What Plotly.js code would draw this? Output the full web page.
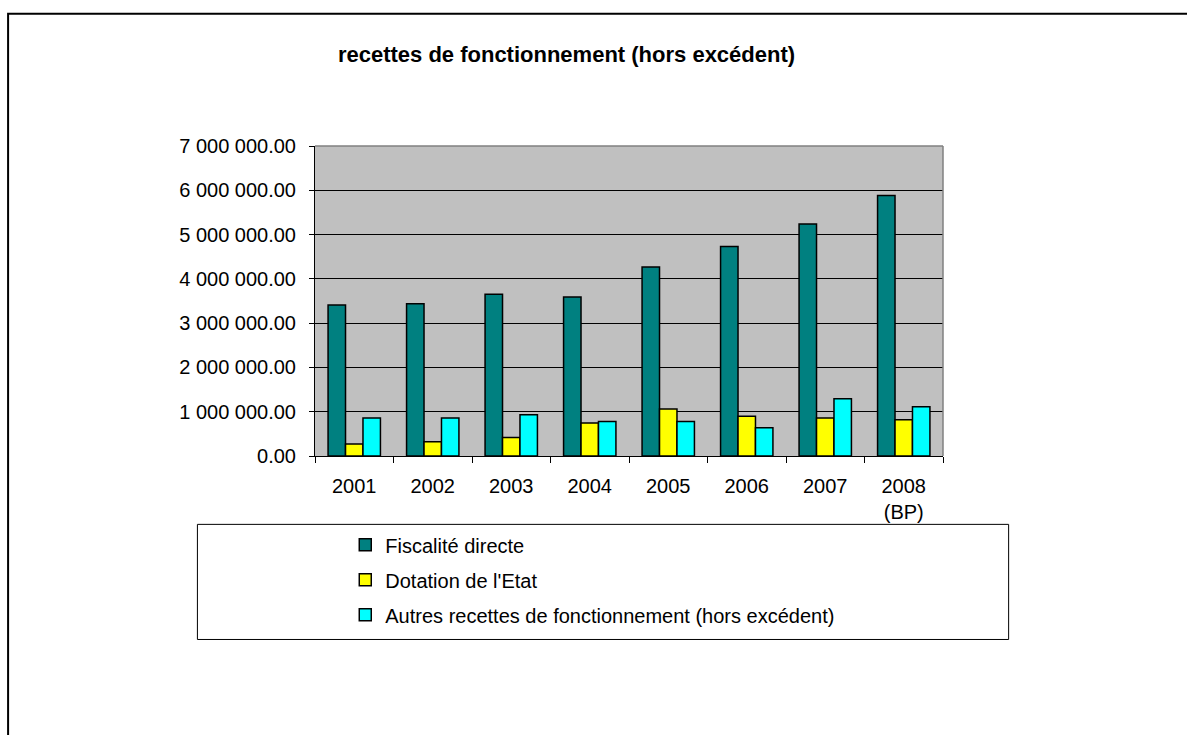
<!DOCTYPE html>
<html>
<head>
<meta charset="utf-8">
<script src="https://cdn.plot.ly/plotly-3.0.1.min.js"></script>
<style>
html,body{margin:0;padding:0;background:#fff;}
#chart{width:1187px;height:735px;}
</style>
</head>
<body>
<div id="chart"></div>
<script>
var categories = ["2001", "2002", "2003", "2004", "2005", "2006", "2007", "2008<br>(BP)"];
var fiscaliteDirecte = [3410000, 3440000, 3650000, 3590000, 4270000, 4730000, 5240000, 5880000];
var dotationEtat = [270000, 320000, 420000, 745000, 1060000, 900000, 860000, 820000];
var autresRecettes = [860000, 860000, 930000, 780000, 780000, 640000, 1290000, 1110000];
var seriesNames = ["Fiscalité directe", "Dotation de l'Etat", "Autres recettes de fonctionnement (hors excédent)"];
var yTickValues = [0, 1000000, 2000000, 3000000, 4000000, 5000000, 6000000, 7000000];

var FONT = "Arial, 'Liberation Sans', sans-serif";
var barLine = {color: "#000000", width: 1.5};

var traces = [
  {type: "bar", name: seriesNames[0], x: categories, y: fiscaliteDirecte, legendgroup: "a",
   marker: {color: "#008080", line: barLine}},
  {type: "bar", name: seriesNames[1], x: categories, y: dotationEtat, legendgroup: "b",
   marker: {color: "#FFFF00", line: barLine}},
  {type: "bar", name: seriesNames[2], x: categories, y: autresRecettes, legendgroup: "c",
   marker: {color: "#00FFFF", line: barLine}}
];

// plot area in pixels: x 314.7..943.3, y 146..455.7
var L = 314.7, R = 943.3, T = 146, B = 455.7;
function px(x){ return (x - L) / (R - L); }
function py(y){ return (B - y) / (B - T); }

var layout = {
  width: 1187, height: 735,
  margin: {l: L, r: 1187 - R, t: T, b: 735 - B, pad: 0},
  paper_bgcolor: "#ffffff",
  plot_bgcolor: "#C0C0C0",
  separators: ". ",
  font: {family: FONT, size: 20, color: "#000000"},
  title: {text: "<b>recettes de fonctionnement (hors excédent)</b>",
          font: {family: FONT, size: 22, color: "#000000"},
          x: 566.5 / 1187, xanchor: "center", y: 1 - 54 / 735, yanchor: "middle"},
  barmode: "group", bargap: 0.333, bargroupgap: 0,
  showlegend: true,
  legend: {x: px(345), xanchor: "left", y: py(525), yanchor: "top",
           bgcolor: "rgba(0,0,0,0)", borderwidth: 0, tracegroupgap: 6,
           font: {family: FONT, size: 20, color: "#000000"}, traceorder: "grouped"},
  xaxis: {type: "category", showgrid: false, zeroline: false,
          showline: true, linecolor: "#000000", linewidth: 1,
          ticks: "outside", tickson: "boundaries", ticklen: 6, tickcolor: "#000000",
          ticklabelstandoff: 12,
          tickfont: {family: FONT, size: 20, color: "#000000"}},
  yaxis: {range: [0, 7000000], tickvals: yTickValues, tickformat: ",.2f",
          showgrid: true, gridcolor: "#000000", gridwidth: 1, zeroline: false,
          showline: true, linecolor: "#000000", linewidth: 1,
          ticks: "outside", ticklen: 5, tickcolor: "#000000",
          ticklabelstandoff: 9,
          tickfont: {family: FONT, size: 20, color: "#000000"}},
  shapes: [
    // plot area top/right border (grey)
    {type: "line", xref: "paper", yref: "paper", x0: 0, x1: 1, y0: 1, y1: 1,
     line: {color: "#808080", width: 1.5}},
    {type: "line", xref: "paper", yref: "paper", x0: 1, x1: 1, y0: 0, y1: 1,
     line: {color: "#808080", width: 1.5}},
    // legend box
    {type: "rect", xref: "paper", yref: "paper", x0: px(197), x1: px(1009), y0: py(639), y1: py(524),
     line: {color: "#000000", width: 1}, fillcolor: "rgba(0,0,0,0)"},
    // outer chart border (left and top)
    {type: "path", xref: "paper", yref: "paper",
     path: "M " + px(7.5) + " " + py(745) + " L " + px(7.5) + " " + py(14) + " L " + px(1195) + " " + py(14),
     line: {color: "#000000", width: 2}}
  ]
};

Plotly.newPlot("chart", traces, layout, {displayModeBar: false, staticPlot: true});
</script>
</body>
</html>
